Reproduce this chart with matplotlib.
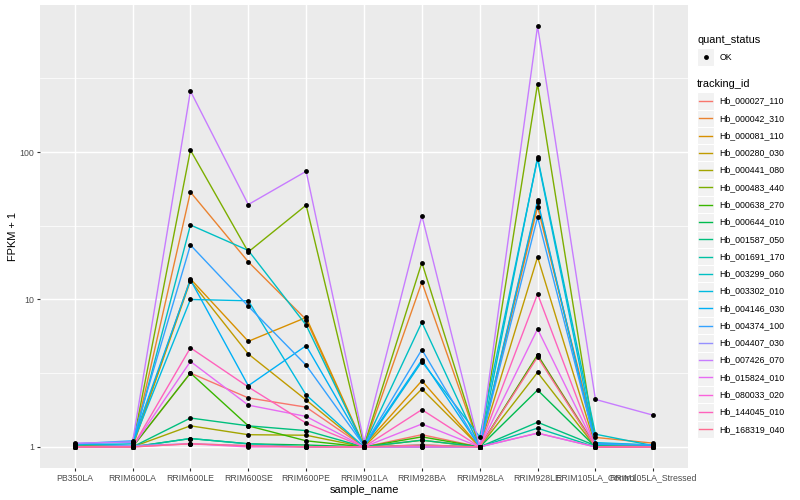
import numpy as np
import matplotlib
matplotlib.use("Agg")
import matplotlib.pyplot as plt
from matplotlib.patches import Rectangle
from matplotlib.lines import Line2D

plt.rcParams["font.family"] = ["Liberation Sans", "DejaVu Sans"]

# ---- data ------------------------------------------------------------------
samples = ["PB350LA", "RRIM600LA", "RRIM600LE", "RRIM600SE", "RRIM600PE",
           "RRIM901LA", "RRIM928BA", "RRIM928LA", "RRIM928LE",
           "RRIM105LA_Control", "RRIM105LA_Stressed"]

tracking_ids = ["Hb_000027_110", "Hb_000042_310", "Hb_000081_110", "Hb_000280_030",
                "Hb_000441_080", "Hb_000483_440", "Hb_000638_270", "Hb_000644_010",
                "Hb_001587_050", "Hb_001691_170", "Hb_003299_060", "Hb_003302_010",
                "Hb_004146_030", "Hb_004374_100", "Hb_004407_030", "Hb_007426_070",
                "Hb_015824_010", "Hb_080033_020", "Hb_144045_010", "Hb_168319_040"]

# FPKM + 1 per tracking id, in sample order
fpkm = [
    [1.00, 1.00, 3.17, 2.15, 1.86, 1.00, 1.21, 1.00, 4.20, 1.02, 1.00],
    [1.02, 1.00, 53.5, 18.0, 7.30, 1.00, 13.1, 1.00, 42.4, 1.16, 1.06],
    [1.03, 1.02, 13.8, 5.20, 7.55, 1.02, 2.81, 1.00, 45.6, 1.05, 1.03],
    [1.02, 1.00, 13.4, 4.27, 2.08, 1.00, 2.47, 1.00, 19.4, 1.02, 1.00],
    [1.00, 1.00, 1.39, 1.21, 1.20, 1.00, 1.11, 1.00, 3.20, 1.00, 1.00],
    [1.03, 1.02, 103., 21.0, 43.6, 1.02, 17.8, 1.00, 290., 1.05, 1.02],
    [1.00, 1.00, 3.17, 1.39, 1.10, 1.00, 1.17, 1.00, 4.20, 1.00, 1.00],
    [1.00, 1.00, 1.14, 1.05, 1.03, 1.00, 1.03, 1.00, 2.43, 1.00, 1.00],
    [1.00, 1.00, 1.57, 1.39, 1.29, 1.00, 1.11, 1.00, 1.47, 1.02, 1.00],
    [1.00, 1.00, 1.14, 1.05, 1.00, 1.00, 1.00, 1.00, 1.34, 1.00, 1.00],
    [1.05, 1.02, 32.0, 21.5, 6.70, 1.02, 7.00, 1.00, 92.0, 1.22, 1.02],
    [1.03, 1.05, 10.0, 9.80, 2.25, 1.00, 3.79, 1.17, 90.0, 1.07, 1.03],
    [1.05, 1.08, 13.6, 2.60, 4.86, 1.02, 3.89, 1.00, 47.0, 1.04, 1.03],
    [1.05, 1.10, 23.4, 9.00, 3.58, 1.02, 4.57, 1.00, 36.2, 1.05, 1.03],
    [1.00, 1.02, 1.05, 1.02, 1.00, 1.00, 1.00, 1.00, 1.24, 1.00, 1.00],
    [1.06, 1.08, 259., 44.0, 74.0, 1.08, 37.0, 1.00, 715., 2.10, 1.64],
    [1.00, 1.00, 3.80, 1.92, 1.61, 1.00, 1.43, 1.00, 6.30, 1.00, 1.00],
    [1.00, 1.00, 1.05, 1.00, 1.00, 1.00, 1.00, 1.00, 1.24, 1.00, 1.00],
    [1.00, 1.00, 4.70, 2.55, 1.45, 1.00, 1.79, 1.00, 10.9, 1.00, 1.00],
    [1.00, 1.00, 1.05, 1.02, 1.00, 1.00, 1.03, 1.00, 4.07, 1.00, 1.00],
]

# ggplot default hue palette, 20 levels
colors = ["#F8766D", "#EA8331", "#D89000", "#C09B00", "#A3A500", "#7CAE00",
          "#39B600", "#00BB4E", "#00BF7D", "#00C1A3", "#00BFC4", "#00BAE0",
          "#00B0F6", "#35A2FF", "#9590FF", "#C77CFF", "#E76BF3", "#FA62DB",
          "#FF62BC", "#FF6C91"]

# ---- figure ------------------------------------------------------------------
W, H = 800, 500
fig = plt.figure(figsize=(W / 100, H / 100), dpi=100)
fig.patch.set_facecolor("white")
ax = fig.add_axes([40 / W, 1 - 468 / H, (688 - 40) / W, (468 - 5) / H])
ax.set_facecolor("#EBEBEB")
for s in ax.spines.values():
    s.set_visible(False)

x = np.arange(len(samples))
for vals, c in zip(fpkm, colors):
    ax.plot(x, vals, color=c, lw=1.0, zorder=3)
for vals in fpkm:
    ax.plot(x, vals, "o", color="black", ms=3.5, mew=0, zorder=4)

ax.set_yscale("log")
ax.set_ylim(10 ** -0.143, 10 ** 2.997)
ax.set_xlim(-0.6, len(samples) - 0.4)
ax.set_yticks([1, 10, 100])
ax.set_yticklabels(["1", "10", "100"])
ax.set_yticks([10 ** 0.5, 10 ** 1.5, 10 ** 2.5], minor=True)
ax.set_xticks(x)
ax.set_xticklabels(samples)
ax.grid(True, which="major", color="white", lw=1.07, zorder=1)
ax.grid(True, which="minor", axis="y", color="white", lw=0.53, zorder=1)
ax.set_axisbelow(True)
ax.tick_params(which="major", length=2.0, width=0.8, color="#333333",
               labelsize=6.3, labelcolor="#4D4D4D", pad=2)
ax.tick_params(which="minor", length=0)
ax.set_xlabel("sample_name", fontsize=7.9, labelpad=1.5)
ax.set_ylabel("FPKM + 1", fontsize=7.9, labelpad=1.5)

# ---- legends (drawn by hand, ggplot style) -----------------------------------
def fx(px):
    return px / W

def fy(py):
    return 1 - py / H

key = 17.28
kx = 697
fig.text(fx(kx), fy(40), "quant_status", fontsize=7.9, va="center", ha="left")
fig.patches.append(Rectangle((fx(kx), fy(57 + key / 2)), key / W, key / H,
                             transform=fig.transFigure, fc="#F2F2F2", ec="white",
                             lw=0.8))
fig.lines.append(Line2D([fx(kx + key / 2)], [fy(57)], marker="o", color="black",
                        ms=3.5, mew=0, transform=fig.transFigure))
fig.text(fx(kx + key + 5), fy(57), "OK", fontsize=6.3, va="center", ha="left")

fig.text(fx(kx), fy(84), "tracking_id", fontsize=7.9, va="center", ha="left")
y0 = 101
for i, (name, c) in enumerate(zip(tracking_ids, colors)):
    yc = y0 + i * key
    fig.patches.append(Rectangle((fx(kx), fy(yc + key / 2)), key / W, key / H,
                                 transform=fig.transFigure, fc="#F2F2F2",
                                 ec="white", lw=0.8))
    fig.lines.append(Line2D([fx(kx + 2), fx(kx + key - 2)], [fy(yc), fy(yc)],
                            color=c, lw=1.0, transform=fig.transFigure))
    fig.text(fx(kx + key + 5), fy(yc), name, fontsize=6.3, va="center", ha="left")

fig.savefig("out.png", dpi=100)
